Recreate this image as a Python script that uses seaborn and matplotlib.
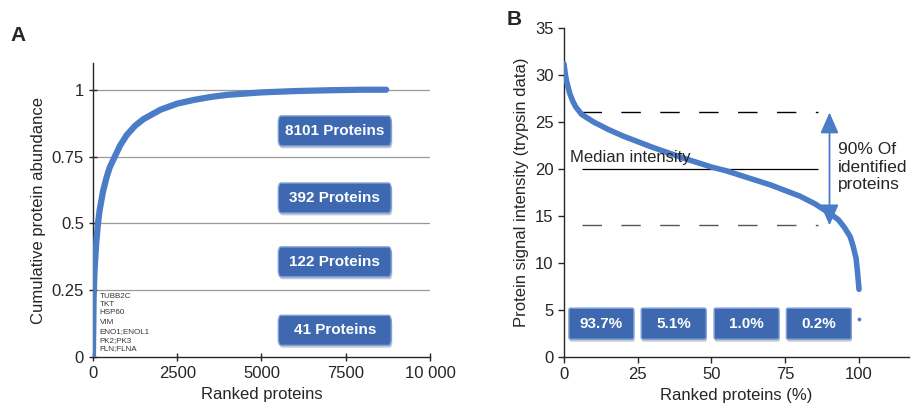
import numpy as np
import pandas as pd
import matplotlib.pyplot as plt
import seaborn as sns
from matplotlib.patches import FancyBboxPatch

# Panel A: cumulative abundance vs ranked proteins
rank_a = [0, 20, 50, 100, 150, 200, 300, 400, 500, 650, 800, 1000, 1250, 1500,
          2000, 2500, 3000, 3500, 4000, 5000, 6000, 7000, 8000, 8700]
cum_a = [0.0, 0.22, 0.33, 0.43, 0.50, 0.55, 0.62, 0.67, 0.71, 0.75, 0.79, 0.83,
         0.865, 0.89, 0.925, 0.948, 0.962, 0.973, 0.981, 0.99, 0.995, 0.998,
         1.0, 1.0]
genes = ["TUBB2C", "TKT", "HSP60", "VIM", "ENO1;ENOL1", "PK2;PK3", "FLN;FLNA"]
gene_y = [0.228, 0.198, 0.165, 0.131, 0.097, 0.061, 0.030]
box_a_labels = ["8101 Proteins", "392 Proteins", "122 Proteins", "41 Proteins"]
box_a_y = [0.846, 0.595, 0.356, 0.10]

# Panel B: intensity vs ranked proteins (%)
rank_b = [0, 0.5, 1, 2, 3, 4, 6, 10, 15, 20, 30, 40, 50, 55, 60, 70, 80, 85,
          90, 93, 95, 97, 98, 99, 99.5, 100]
intens_b = [31.2, 30.0, 29.2, 28.0, 27.2, 26.6, 25.8, 25.0, 24.2, 23.5, 22.3,
            21.2, 20.2, 19.8, 19.3, 18.3, 17.1, 16.3, 15.3, 14.6, 13.8, 12.8,
            11.8, 10.5, 9.0, 7.2]
box_b_labels = ["93.7%", "5.1%", "1.0%", "0.2%"]
box_b_x = [1.7, 26.2, 50.9, 75.4]

sns.set_style("ticks")
plt.rcParams["font.family"] = ["Liberation Sans", "DejaVu Sans"]

BLUE = "#4a7cc7"
BOXC = "#3e68b0"


def add_box(ax, x, y, w, h, rs, aspect):
    # soft shadow then the box itself
    ax.add_patch(FancyBboxPatch((x + w * 0.01, y - h * 0.08), w, h,
                                boxstyle=f"round,pad=0,rounding_size={rs}",
                                fc="#9aa6b8", ec="none", alpha=0.6, zorder=3.5,
                                mutation_aspect=aspect))
    ax.add_patch(FancyBboxPatch((x, y), w, h,
                                boxstyle=f"round,pad=0,rounding_size={rs}",
                                fc=BOXC, ec="#7f9fd6", lw=1, zorder=4,
                                mutation_aspect=aspect))


fig = plt.figure(figsize=(9.11, 4.09), dpi=100)
ax1 = fig.add_axes([0.102, 0.127, 0.370, 0.719])
ax2 = fig.add_axes([0.619, 0.127, 0.379, 0.805])

# ---- Panel A
for yv in [0.25, 0.5, 0.75, 1.0]:
    ax1.axhline(yv, color="#999999", lw=0.9, zorder=0)
df_a = pd.DataFrame({"rank": rank_a, "cum": cum_a})
sns.lineplot(data=df_a, x="rank", y="cum", ax=ax1, color=BLUE, lw=4.5, zorder=3)
ax1.set_xlim(0, 10000)
ax1.set_ylim(0, 1.1)
ax1.set_xticks([0, 2500, 5000, 7500, 10000])
ax1.set_xticklabels(["0", "2500", "5000", "7500", "10 000"])
ax1.set_yticks([0, 0.25, 0.5, 0.75, 1])
ax1.set_yticklabels(["0", "0.25", "0.5", "0.75", "1"])
ax1.set_xlabel("Ranked proteins", fontsize=12)
ax1.set_ylabel("Cumulative protein abundance", fontsize=12)
ax1.tick_params(labelsize=12, direction="inout", length=6, width=1)
sns.despine(ax=ax1)
for sp in ax1.spines.values():
    sp.set_linewidth(1)
for g, gy in zip(genes, gene_y):
    ax1.text(200, gy, g, fontsize=5.8, color="#333333", va="center")
for lab, cy in zip(box_a_labels, box_a_y):
    add_box(ax1, 5500, cy - 0.056, 3350, 0.112, 80, 0.00033)
    ax1.text(7175, cy, lab, color="white", fontsize=11, fontweight="bold",
             ha="center", va="center", zorder=5)
fig.text(0.012, 0.90, "A", fontsize=15, fontweight="bold")

# ---- Panel B
df_b = pd.DataFrame({"rank": rank_b, "intensity": intens_b})
sns.lineplot(data=df_b, x="rank", y="intensity", ax=ax2, color=BLUE, lw=4, zorder=3)
sns.scatterplot(x=[100], y=[4.0], ax=ax2, color=BLUE, s=6, edgecolor=None)
ax2.hlines(26, 6, 86, colors="black", linestyles=(0, (14, 14)), lw=1)
ax2.hlines(14, 6, 86, colors="#555555", linestyles=(0, (14, 14)), lw=1)
ax2.hlines(20, 6, 86, colors="black", lw=0.9)
ax2.text(2, 20.4, "Median intensity", fontsize=12, va="bottom")
ax2.annotate("", xy=(90, 26.3), xytext=(90, 13.7),
             arrowprops=dict(arrowstyle="<|-|>,head_length=0.8,head_width=0.35",
                             color=BLUE, lw=1.3, mutation_scale=16))
ax2.text(93, 20.2, "90% Of\nidentified\nproteins", fontsize=12.5, va="center",
         linespacing=1.2)
for lab, bx in zip(box_b_labels, box_b_x):
    add_box(ax2, bx, 1.9, 22, 3.3, 0.6, 0.3)
    ax2.text(bx + 11, 3.55, lab, color="white", fontsize=11, fontweight="bold",
             ha="center", va="center", zorder=5)
ax2.set_xlim(0, 117)
ax2.set_ylim(0, 35)
ax2.set_xticks([0, 25, 50, 75, 100])
ax2.set_yticks(range(0, 36, 5))
ax2.set_xlabel("Ranked proteins (%)", fontsize=12)
ax2.set_ylabel("Protein signal intensity (trypsin data)", fontsize=12)
ax2.tick_params(labelsize=12, direction="out", length=4, width=1)
sns.despine(ax=ax2)
for sp in ax2.spines.values():
    sp.set_linewidth(1)
fig.text(0.556, 0.94, "B", fontsize=15, fontweight="bold")

plt.savefig("out.png", dpi=100)
